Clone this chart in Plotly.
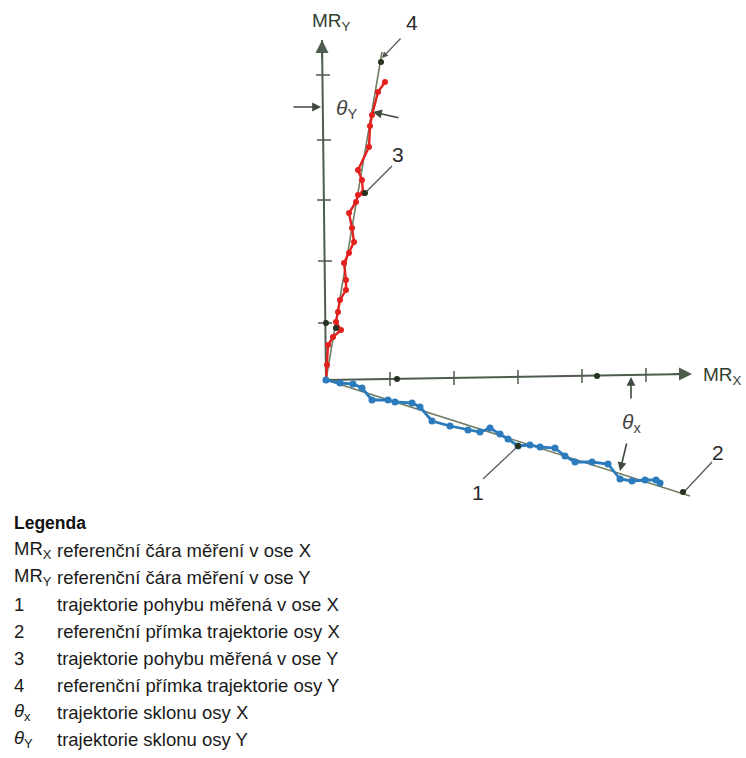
import plotly.graph_objects as go

# Diagram units: origin at the common start point, x to the right, y upward.
# Measured trajectory along Y (red)
red_x = [0, 1, 2, 7, 15, 10, 12, 14, 20, 20, 18, 23, 28, 26, 23, 30, 32, 37, 36, 32, 43, 44, 46, 52, 59]
red_y = [0, 15, 35, 43, 50, 58, 68, 80, 90, 100, 117, 127, 138, 152, 167, 178, 185, 187, 200, 210, 233, 254, 265, 288, 298]

# Measured trajectory along X (blue)
blue_x = [0, 14, 27, 36, 46, 62, 69, 86, 94, 106, 124, 142, 154, 164, 174, 182, 192, 204, 214, 229, 239, 249, 266, 282, 294, 306, 319, 330, 334]
blue_y = [0, -3, -4, -8, -20, -20, -22, -23, -27, -41, -46, -50, -52, -48, -54, -59, -66, -65, -67, -68, -76, -82, -82, -84, -99, -101, -100, -100, -103]

# Reference lines (MR axes and fitted reference lines 2 and 4)
mry_x = [0, -4]
mry_y = [0, 340]
mrx_x = [0, 364]
mrx_y = [0, 6]
ref4_x = [0, 56]
ref4_y = [0, 328]
ref2_x = [0, 364]
ref2_y = [0, -116]

# Tick marks on the MR axes
mry_tick_x = [-1, -1, -2, -2, -3]
mry_tick_y = [57, 119, 180, 240, 305]
mrx_tick_x = [64, 128, 192, 256, 320]
mrx_tick_y = [1, 2, 3, 4, 5]

# Characteristic dark points
dot_x = [0, 10, 39, 55, 192, 357, 71, 271]
dot_y = [57, 52, 187, 318, -66, -112, 1, 4]

# Leader lines (from label to marked point)
lead3_x = [66, 41]
lead3_y = [214, 189]
lead2_x = [386, 358]
lead2_y = [-82, -112]
lead1_x = [157, 190]
lead1_y = [-99, -68]

# Legend
legend_codes = ["MR<sub>X</sub>", "MR<sub>Y</sub>", "1", "2", "3", "4", "<i>θ</i><sub>x</sub>", "<i>θ</i><sub>Y</sub>"]
legend_texts = [
    "referenční čára měření v ose X",
    "referenční čára měření v ose Y",
    "trajektorie pohybu měřená v ose X",
    "referenční přímka trajektorie osy X",
    "trajektorie pohybu měřená v ose Y",
    "referenční přímka trajektorie osy Y",
    "trajektorie sklonu osy X",
    "trajektorie sklonu osy Y",
]

AX = "#4d5c4d"
REF = "#6f7d60"
DARK = "#24321f"
TXT = "#2b2b2b"
FONT = "Liberation Sans, Arial, sans-serif"

fig = go.Figure()

# MR axes
fig.add_trace(go.Scatter(x=mry_x, y=mry_y, mode="lines", line=dict(color=AX, width=2), hoverinfo="skip"))
fig.add_trace(go.Scatter(x=mrx_x, y=mrx_y, mode="lines", line=dict(color=AX, width=2), hoverinfo="skip"))
fig.add_trace(go.Scatter(x=mry_tick_x, y=mry_tick_y, mode="markers",
                         marker=dict(symbol="line-ew", size=10, line=dict(color=AX, width=1.5)), hoverinfo="skip"))
fig.add_trace(go.Scatter(x=mrx_tick_x, y=mrx_tick_y, mode="markers",
                         marker=dict(symbol="line-ns", size=10, line=dict(color=AX, width=1.5)), hoverinfo="skip"))

# Reference lines
fig.add_trace(go.Scatter(x=ref4_x, y=ref4_y, mode="lines", line=dict(color=REF, width=1.6), hoverinfo="skip"))
fig.add_trace(go.Scatter(x=ref2_x, y=ref2_y, mode="lines", line=dict(color=REF, width=1.6), hoverinfo="skip"))

# Measured trajectories
fig.add_trace(go.Scatter(x=red_x, y=red_y, mode="lines+markers",
                         line=dict(color="#e3201e", width=2.4),
                         marker=dict(color="#e3201e", size=6), hoverinfo="skip"))
fig.add_trace(go.Scatter(x=blue_x, y=blue_y, mode="lines+markers",
                         line=dict(color="#2b7bbd", width=2.8),
                         marker=dict(color="#2b7bbd", size=7), hoverinfo="skip"))

# Leader lines
for lx, ly in [(lead3_x, lead3_y), (lead2_x, lead2_y), (lead1_x, lead1_y)]:
    fig.add_trace(go.Scatter(x=lx, y=ly, mode="lines", line=dict(color="#555", width=1.2), hoverinfo="skip"))

# Dark points
fig.add_trace(go.Scatter(x=dot_x, y=dot_y, mode="markers",
                         marker=dict(color=DARK, size=6), hoverinfo="skip"))

ann = []

def arrow(tx, ty, fx, fy, color=AX, width=1.5, size=1.2, head=2):
    ann.append(dict(x=tx, y=ty, ax=fx, ay=fy, xref="x", yref="y", axref="x", ayref="y",
                    text="", showarrow=True, arrowhead=head, arrowsize=size,
                    arrowwidth=width, arrowcolor=color))

def label(x, y, t, size=18, color=TXT, xanchor="center"):
    ann.append(dict(x=x, y=y, xref="x", yref="y", text=t, showarrow=False,
                    xanchor=xanchor, yanchor="middle",
                    font=dict(family=FONT, size=size, color=color)))

# Axis arrowheads
arrow(-4, 340, -4, 320, color=AX, width=2, size=1.3)
arrow(366, 6, 346, 6, color=AX, width=2, size=1.3)

# Axis labels
label(5, 358, "MR<sub>Y</sub>", size=19, color="#33402f")
label(396, 4, "MR<sub>X</sub>", size=19, color="#33402f")

# Number labels
label(86, 358, "4", size=21)
arrow(56, 322, 76, 343, color="#555", width=1.2, size=1)
label(72, 226, "3", size=21)
label(392, -72, "2", size=21)
label(152, -112, "1", size=21)

# theta Y
label(20, 271, "<i>θ</i><sub>Y</sub>", size=21, color="#444")
arrow(-5, 273, -34, 273, color="#3d4a3d", width=1.6, size=1.1)
arrow(47, 268, 74, 262, color="#3d4a3d", width=1.6, size=1.1)

# theta X
label(305, -43, "<i>θ</i><sub>x</sub>", size=21, color="#444")
arrow(305, 3, 305, -20, color="#3d4a3d", width=1.6, size=1.1)
arrow(294, -91, 301, -62, color="#3d4a3d", width=1.6, size=1.1)

# Legend
ann.append(dict(x=-314, y=380 - 523, xref="x", yref="y", text="<b>Legenda</b>", showarrow=False,
                xanchor="left", yanchor="middle", font=dict(family=FONT, size=17.5, color="#111")))
for i, (c, t) in enumerate(zip(legend_codes, legend_texts)):
    yy = 380 - (550 + 27 * i)
    ann.append(dict(x=-314, y=yy, xref="x", yref="y", text=c, showarrow=False,
                    xanchor="left", yanchor="middle", font=dict(family=FONT, size=18.5, color="#1a1a1a")))
    ann.append(dict(x=-271, y=yy, xref="x", yref="y", text=t, showarrow=False,
                    xanchor="left", yanchor="middle", font=dict(family=FONT, size=18.5, color="#1a1a1a")))

fig.update_layout(
    width=746, height=758,
    margin=dict(l=0, r=0, t=0, b=0),
    paper_bgcolor="white", plot_bgcolor="white",
    showlegend=False,
    xaxis=dict(range=[-326, 420], visible=False, fixedrange=True),
    yaxis=dict(range=[-378, 380], visible=False, fixedrange=True),
    annotations=ann,
)

fig.write_html("out.html", config={"displayModeBar": False},
               post_script="document.body.style.margin='0';")
